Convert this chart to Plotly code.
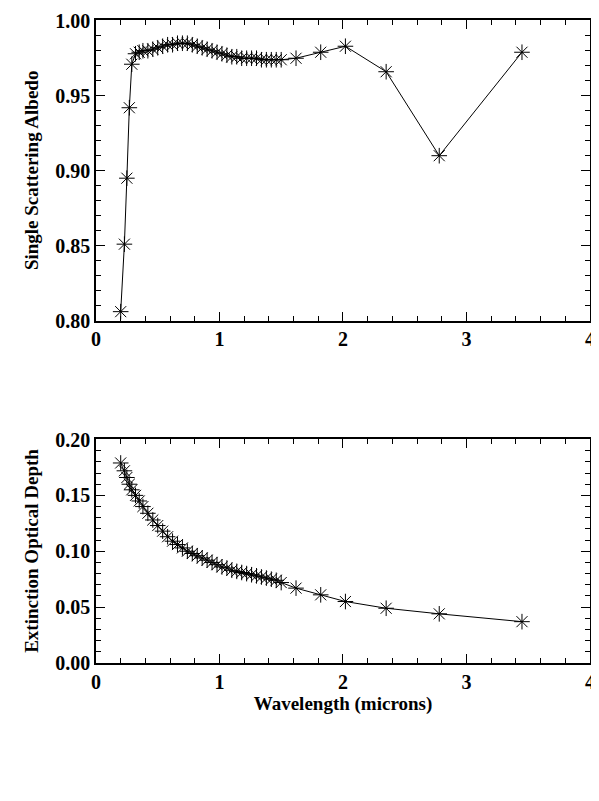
import plotly.graph_objects as go
from plotly.subplots import make_subplots

# wavelengths (microns)
wavelength = [0.20, 0.23, 0.25, 0.27, 0.29, 0.32, 0.35, 0.38, 0.42, 0.46, 0.50,
              0.54, 0.58, 0.62, 0.66, 0.70, 0.74, 0.78, 0.82, 0.86, 0.90, 0.94,
              0.98, 1.02, 1.06, 1.10, 1.14, 1.18, 1.22, 1.26, 1.30, 1.34, 1.38,
              1.42, 1.46, 1.50, 1.62, 1.82, 2.02, 2.35, 2.78, 3.45]
albedo = [0.806, 0.851, 0.895, 0.942, 0.971, 0.978, 0.979, 0.980, 0.980, 0.981, 0.982,
          0.983, 0.984, 0.984, 0.985, 0.985, 0.985, 0.984, 0.983, 0.982, 0.981, 0.980,
          0.979, 0.978, 0.977, 0.976, 0.976, 0.975, 0.975, 0.975, 0.975, 0.974, 0.974,
          0.974, 0.974, 0.974, 0.975, 0.979, 0.983, 0.966, 0.910, 0.979]
optical_depth = [0.179, 0.172, 0.166, 0.160, 0.155, 0.150, 0.145, 0.140, 0.134, 0.128, 0.123,
                 0.118, 0.113, 0.109, 0.106, 0.103, 0.100, 0.098, 0.096, 0.094, 0.092, 0.090,
                 0.088, 0.086, 0.085, 0.083, 0.082, 0.081, 0.080, 0.079, 0.078, 0.077, 0.076,
                 0.075, 0.074, 0.072, 0.067, 0.061, 0.055, 0.049, 0.044, 0.037]

font = dict(family="Liberation Serif", size=20, color="black")
title_font = dict(family="Liberation Serif", size=19, color="black")

fig = make_subplots(rows=2, cols=1, vertical_spacing=0.184, row_heights=[0.573, 0.427])

marker = dict(symbol="asterisk-open", size=13, color="black", line=dict(width=1, color="black"))
fig.add_trace(go.Scatter(x=wavelength, y=albedo, mode="lines+markers",
                         line=dict(color="black", width=1), marker=marker), row=1, col=1)
fig.add_trace(go.Scatter(x=wavelength, y=optical_depth, mode="lines+markers",
                         line=dict(color="black", width=1), marker=marker), row=2, col=1)

axis_style = dict(showline=True, linecolor="black", linewidth=1.5, mirror="ticks",
                  ticks="inside", ticklen=9, tickcolor="black", showgrid=False,
                  zeroline=False, tickfont=font, automargin=False,
                  minor=dict(ticks="inside", ticklen=5, tickcolor="black"))
fig.update_xaxes(range=[0, 4.001], dtick=1, minor_dtick=0.2, **axis_style)
fig.update_yaxes(**axis_style)
fig.update_yaxes(range=[0.8, 1.0005], dtick=0.05, minor_dtick=0.01, tickformat=".2f",
                 title=dict(text="<b>Single Scattering Albedo</b>", font=title_font, standoff=12), row=1, col=1)
fig.update_yaxes(range=[0, 0.2005], dtick=0.05, minor_dtick=0.01, tickformat=".2f",
                 title=dict(text="<b>Extinction Optical Depth</b>", font=title_font, standoff=12), row=2, col=1)
fig.update_xaxes(title=dict(text="<b>Wavelength (microns)</b>", font=title_font, standoff=0), row=2, col=1)
fig.update_xaxes(tickprefix="<b>", ticksuffix="</b>")
fig.update_yaxes(tickprefix="<b>", ticksuffix="</b>")

fig.update_layout(width=599, height=801, showlegend=False, plot_bgcolor="white",
                  paper_bgcolor="white", margin=dict(l=88, r=17, t=12, b=146))
fig.write_html("out.html")
